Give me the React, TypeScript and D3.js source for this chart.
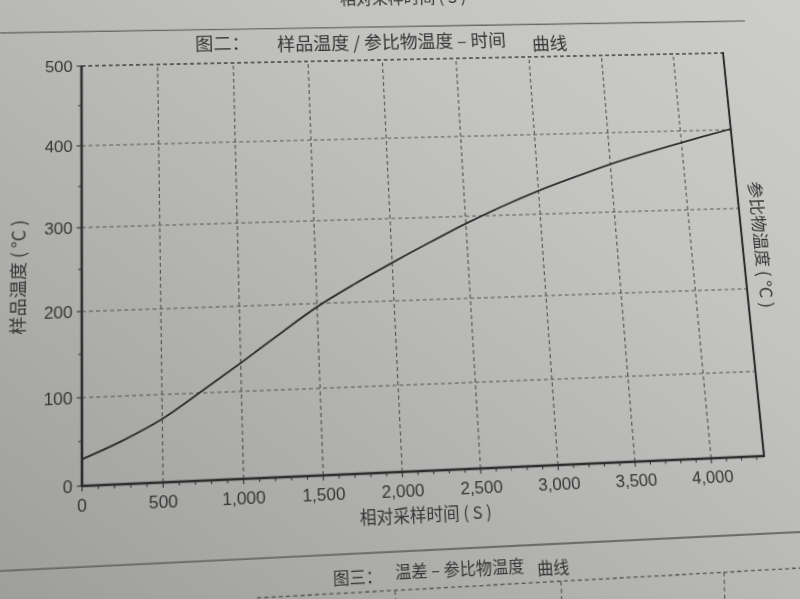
import React from "react";
import * as d3 from "d3";

// ---- data ----
const timeSeconds = [0, 250, 500, 750, 1000, 1250, 1500, 1750, 2000, 2250, 2500, 2750, 3000, 3250, 3500, 3750, 4000, 4150, 4350];
const sampleTemp = [30, 49, 72, 102, 133, 165, 196, 222, 246, 269, 291, 311, 329, 345, 360, 373, 385, 392, 401];
const xTickValues = [0, 500, 1000, 1500, 2000, 2500, 3000, 3500, 4000];
const yTickValues = [0, 100, 200, 300, 400, 500];
const xDomainMax = 4350;
const yDomainMax = 500;
const titleParts = ["图二：", "样品温度 / 参比物温度 – 时间", "曲线"];
const nextTitleParts = ["图三：", "温差 – 参比物温度", "曲线"];
const xAxisTitle = "相对采样时间 ( S )";
const yAxisTitle = "样品温度 ( °C )";
const y2AxisTitle = "参比物温度 ( °C )";

type Pt = [number, number];

function solveHomography(src: Pt[], dst: Pt[]): number[] {
  const A: number[][] = [];
  for (let i = 0; i < 4; i++) {
    const [x, y] = src[i];
    const [u, v] = dst[i];
    A.push([x, y, 1, 0, 0, 0, -x * u, -y * u, u]);
    A.push([0, 0, 0, x, y, 1, -x * v, -y * v, v]);
  }
  const n = 8;
  for (let c = 0; c < n; c++) {
    let p = c;
    for (let r = c + 1; r < n; r++) if (Math.abs(A[r][c]) > Math.abs(A[p][c])) p = r;
    [A[c], A[p]] = [A[p], A[c]];
    for (let r = 0; r < n; r++) {
      if (r === c) continue;
      const f = A[r][c] / A[c][c];
      for (let k = c; k <= n; k++) A[r][k] -= f * A[c][k];
    }
  }
  return A.map((row, i) => row[n] / row[i]);
}
function applyH(h: number[], x: number, y: number): Pt {
  const w = h[6] * x + h[7] * y + 1;
  return [(h[0] * x + h[1] * y + h[2]) / w, (h[3] * x + h[4] * y + h[5]) / w];
}

const CJK = "'Noto Sans CJK SC', 'Noto Sans', sans-serif";
const LAT = "'Liberation Sans', Arial, sans-serif";
const INK = "#353535";
const GRID = "#575757";

export default function App() {
  const L = 82, R = 764, T = 66, B = 486;
  const x = d3.scaleLinear().domain([0, xDomainMax]).range([L, R]);
  const y = d3.scaleLinear().domain([0, yDomainMax]).range([B, T]);

  // flat frame -> photographed page (perspective)
  const flat: Pt[] = [[L, T], [R, T], [R, B], [L, B]];
  const photo: Pt[] = [[81.5, 66], [723, 53], [764, 456], [82, 486]];
  const H = solveHomography(flat, photo);
  const Hi = solveHomography(photo, flat);
  const P = (px: number, py: number) => applyH(Hi, px, py);
  const m3d = `matrix3d(${H[0]},${H[3]},0,${H[6]},${H[1]},${H[4]},0,${H[7]},0,0,1,0,${H[2]},${H[5]},0,1)`;

  const line = d3
    .line<number>()
    .x((_, i) => x(timeSeconds[i]))
    .y((d) => y(d))
    .curve(d3.curveMonotoneX);

  const xMinor = d3.range(0, xDomainMax + 1, 100);
  const yMinor = d3.range(0, yDomainMax + 1, 50);

  const topSep = [P(0, 33), P(745, 21)];
  const botSep = [P(0, 571), P(800, 532)];
  const nextTop = [P(257, 598), P(810, 567.5)];
  const nextGridX = [395, 561, 724];

  const title0 = P(195, 43), title1 = P(277, 43), title2 = P(532, 43);
  const nt0 = P(333, 577), nt1 = P(395, 571), nt2 = P(537, 567);
  const topCut = P(403, -3);
  const xTitle = P(426, 514);
  const yTitle = P(17, 277);
  const y2Title = P(762, 244);

  return (
    <div
      style={{
        position: "fixed",
        left: 0,
        top: 0,
        width: 800,
        height: 599,
        overflow: "hidden",
        background: "linear-gradient(to top right, #9e9e9c 0%, #b3b3b1 40%, #c3c3c1 70%, #cdcdcb 100%)",
      }}
    >
      <svg
        width={800}
        height={599}
        style={{
          position: "absolute",
          left: 0,
          top: 0,
          overflow: "visible",
          transformOrigin: "0 0",
          transform: m3d,
        }}
      >
        {/* page decorations */}
        <line x1={topSep[0][0]} y1={topSep[0][1]} x2={topSep[1][0]} y2={topSep[1][1]} stroke="#666" strokeWidth={1.4} />
        <text x={topCut[0]} y={topCut[1]} fontFamily={CJK} fontSize={17} fill={INK} textAnchor="middle" dominantBaseline="central">
          {xAxisTitle}
        </text>
        <line x1={botSep[0][0]} y1={botSep[0][1]} x2={botSep[1][0]} y2={botSep[1][1]} stroke="#555" strokeWidth={1.4} />
        <line x1={nextTop[0][0]} y1={nextTop[0][1]} x2={nextTop[1][0]} y2={nextTop[1][1]} stroke={GRID} strokeWidth={1.3} strokeDasharray="4,3" />
        {nextGridX.map((gx) => {
          const yTop = 598 - (gx - 257) * (30.5 / 553);
          const a = P(gx, yTop);
          const b = P(gx + 1, 610);
          return <line key={gx} x1={a[0]} y1={a[1]} x2={b[0]} y2={b[1]} stroke={GRID} strokeWidth={1.2} strokeDasharray="4,3" />;
        })}
        <g fontFamily={CJK} fontSize={16} fill={INK} dominantBaseline="central">
          <text x={nt0[0]} y={nt0[1]}>{nextTitleParts[0]}</text>
          <text x={nt1[0]} y={nt1[1]}>{nextTitleParts[1]}</text>
          <text x={nt2[0]} y={nt2[1]}>{nextTitleParts[2]}</text>
        </g>

        {/* chart title */}
        <g fontFamily={CJK} fontSize={19} fill={INK} dominantBaseline="central">
          <text x={title0[0]} y={title0[1]}>{titleParts[0]}</text>
          <text x={title1[0]} y={title1[1]}>{titleParts[1]}</text>
          <text x={title2[0]} y={title2[1]}>{titleParts[2]}</text>
        </g>

        {/* grid */}
        <g stroke={GRID} strokeWidth={1.2} strokeDasharray="4,3" fill="none">
          {xTickValues.filter((v) => v > 0).map((v) => (
            <line key={"gx" + v} x1={x(v)} x2={x(v)} y1={y(0)} y2={y(yDomainMax)} />
          ))}
          {yTickValues.filter((v) => v > 0).map((v) => (
            <line key={"gy" + v} x1={x(0)} x2={x(xDomainMax)} y1={y(v)} y2={y(v)} stroke={v === yDomainMax ? "#3a3a3a" : GRID} strokeWidth={v === yDomainMax ? 1.6 : 1.2} />
          ))}
        </g>

        {/* ticks */}
        <g stroke={INK} strokeWidth={1.1}>
          {xMinor.map((v) => (
            <line key={"tx" + v} x1={x(v)} x2={x(v)} y1={y(0)} y2={y(0) + (v % 500 === 0 ? 5 : 3.5)} />
          ))}
          {yMinor.map((v) => (
            <line key={"ty" + v} x1={x(0)} x2={x(0) - (v % 100 === 0 ? 5 : 3.5)} y1={y(v)} y2={y(v)} />
          ))}
        </g>

        {/* axes / frame */}
        <line x1={x(0)} x2={x(0)} y1={y(0) + 1} y2={y(yDomainMax)} stroke="#2e2e2e" strokeWidth={2.6} />
        <line x1={x(0)} x2={x(xDomainMax)} y1={y(0)} y2={y(0)} stroke="#2e2e2e" strokeWidth={2.6} />
        <line x1={x(xDomainMax)} x2={x(xDomainMax)} y1={y(0) + 1} y2={y(yDomainMax) - 1} stroke="#2e2e2e" strokeWidth={2.2} />

        {/* tick labels */}
        <g fontFamily={LAT} fontSize={17} fill={INK}>
          {xTickValues.map((v) => (
            <text key={"lx" + v} x={x(v)} y={y(0) + 24} textAnchor="middle">
              {d3.format(",")(v)}
            </text>
          ))}
          {yTickValues.map((v) => (
            <text key={"ly" + v} x={x(0) - 9} y={y(v) + 6} textAnchor="end">
              {v}
            </text>
          ))}
        </g>

        {/* curve */}
        <path d={line(sampleTemp) || ""} fill="none" stroke="#2c2c2c" strokeWidth={1.8} />

        {/* axis titles */}
        <g fontFamily={CJK} fill={INK}>
          <text x={xTitle[0]} y={xTitle[1]} fontSize={16.5} textAnchor="middle" dominantBaseline="central">{xAxisTitle}</text>
          <text transform={`translate(${yTitle[0]},${yTitle[1]}) rotate(-90)`} fontSize={18} textAnchor="middle" dominantBaseline="central">{yAxisTitle}</text>
          <text transform={`translate(${y2Title[0]},${y2Title[1]}) rotate(90)`} fontSize={18} textAnchor="middle" dominantBaseline="central">{y2AxisTitle}</text>
        </g>
      </svg>
    </div>
  );
}
